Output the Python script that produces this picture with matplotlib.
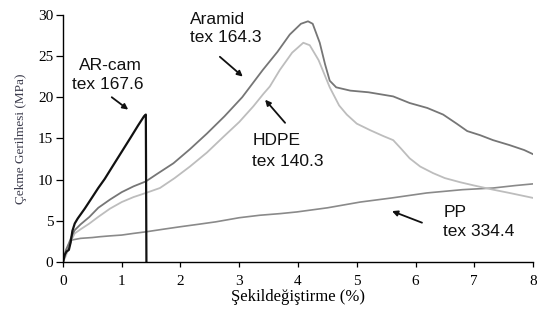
import matplotlib
matplotlib.use("Agg")
import matplotlib.pyplot as plt

# ---- data ----
arcam_x = [0, 0.03, 0.06, 0.10, 0.13, 0.16, 0.20, 0.25, 0.30, 0.37, 0.49, 0.60, 0.71, 0.85, 1.00, 1.15, 1.28, 1.38, 1.41, 1.42]
arcam_y = [0, 0.9, 1.3, 1.5, 2.4, 3.8, 4.7, 5.3, 5.8, 6.5, 7.8, 9.0, 10.1, 11.7, 13.4, 15.1, 16.6, 17.7, 17.9, 0.0]

aramid_x = [0, 0.05, 0.10, 0.15, 0.20, 0.30, 0.45, 0.60, 0.80, 1.00, 1.20, 1.41, 1.60, 1.88, 2.16, 2.45, 2.75,
            3.05, 3.40, 3.65, 3.86, 4.05, 4.17, 4.25, 4.37, 4.46, 4.54, 4.65, 4.89, 5.20, 5.62, 5.90, 6.20,
            6.47, 6.70, 6.88, 7.10, 7.32, 7.60, 7.85, 8.00]
aramid_y = [0, 1.5, 2.3, 3.2, 3.9, 4.6, 5.5, 6.6, 7.6, 8.5, 9.2, 9.8, 10.7, 12.0, 13.7, 15.6, 17.7,
            20.0, 23.3, 25.5, 27.6, 28.9, 29.2, 28.9, 26.6, 24.0, 22.0, 21.2, 20.8, 20.6, 20.1, 19.3, 18.7,
            17.9, 16.8, 15.9, 15.4, 14.8, 14.2, 13.6, 13.1]

hdpe_x = [0, 0.05, 0.10, 0.15, 0.20, 0.30, 0.45, 0.60, 0.80, 1.00, 1.20, 1.41, 1.65, 1.90, 2.16, 2.45, 2.73,
          3.00, 3.24, 3.41, 3.52, 3.69, 3.90, 4.09, 4.20, 4.35, 4.54, 4.70, 4.83, 5.00, 5.23, 5.45, 5.62,
          5.75, 5.90, 6.08, 6.30, 6.50, 6.76, 7.00, 7.32, 7.60, 8.00]
hdpe_y = [0, 0.8, 1.8, 2.8, 3.5, 4.0, 4.7, 5.5, 6.5, 7.3, 7.9, 8.4, 9.0, 10.2, 11.6, 13.3, 15.2,
          17.0, 18.9, 20.4, 21.3, 23.3, 25.4, 26.6, 26.3, 24.5, 21.2, 19.0, 17.9, 16.8, 16.0, 15.3, 14.8,
          13.8, 12.6, 11.6, 10.8, 10.2, 9.7, 9.3, 8.8, 8.4, 7.8]

pp_x = [0, 0.05, 0.10, 0.15, 0.30, 0.50, 0.63, 0.80, 1.00, 1.20, 1.42, 1.70, 1.99, 2.30, 2.60, 3.00, 3.35,
        3.70, 3.98, 4.50, 5.06, 5.60, 6.19, 6.80, 7.32, 7.70, 8.00]
pp_y = [0, 1.2, 2.2, 2.7, 2.9, 3.0, 3.1, 3.2, 3.3, 3.5, 3.7, 4.0, 4.3, 4.6, 4.9, 5.4, 5.7,
        5.9, 6.1, 6.6, 7.3, 7.8, 8.4, 8.8, 9.0, 9.3, 9.5]

x_ticks = [0, 1, 2, 3, 4, 5, 6, 7, 8]
y_ticks = [0, 5, 10, 15, 20, 25, 30]

labels = [("AR-cam", "tex 167.6"), ("Aramid", "tex 164.3"), ("HDPE", "tex 140.3"), ("PP", "tex 334.4")]

# ---- figure ----
fig = plt.figure(figsize=(5.37, 3.21), dpi=100)
ax = fig.add_axes([0.1173, 0.1829, 0.8753, 0.7713])

ax.plot(pp_x, pp_y, color="#8a8a8a", lw=1.2)
ax.plot(hdpe_x, hdpe_y, color="#bdbdbd", lw=1.3)
ax.plot(aramid_x, aramid_y, color="#767676", lw=1.3)
ax.plot(arcam_x, arcam_y, color="#111111", lw=1.6)

ax.set_xlim(0, 8)
ax.set_ylim(0, 30)
ax.set_xticks(x_ticks)
ax.set_yticks(y_ticks)

for s in ("top", "right"):
    ax.spines[s].set_visible(False)
for s in ("left", "bottom"):
    ax.spines[s].set_linewidth(1.0)
    ax.spines[s].set_color("black")
ax.tick_params(axis="x", direction="out", length=3.3, width=0.9, labelsize=11, pad=5.5)
ax.tick_params(axis="y", direction="out", length=5.0, width=0.9, labelsize=11, pad=2)
for lab in ax.get_xticklabels() + ax.get_yticklabels():
    lab.set_family("Liberation Serif")

ax.set_xlabel("Şekildeğiştirme (%)", family="Liberation Serif", fontsize=12, labelpad=1)
ax.set_ylabel("Çekme Gerilmesi (MPa)", family="Liberation Serif", fontsize=9.5,
              color="#3b3b4b", labelpad=8)

tkw = dict(family="Liberation Sans", fontsize=12.5, color="#111111", va="center")
ap = dict(arrowstyle="-|>", color="#111111", lw=1.3, mutation_scale=8, shrinkA=0, shrinkB=0)

# AR-cam
ax.text(0.80, 23.9, labels[0][0], ha="center", **tkw)
ax.text(0.77, 21.6, labels[0][1], ha="center", **tkw)
ax.annotate("", xy=(1.11, 18.5), xytext=(0.83, 20.0), arrowprops=ap)
# Aramid
ax.text(2.16, 29.4, labels[1][0], ha="left", **tkw)
ax.text(2.16, 27.2, labels[1][1], ha="left", **tkw)
ax.annotate("", xy=(3.06, 22.5), xytext=(2.67, 24.9), arrowprops=ap)
# HDPE
ax.text(3.22, 14.8, labels[2][0], ha="left", **tkw)
ax.text(3.22, 12.2, labels[2][1], ha="left", **tkw)
ax.annotate("", xy=(3.44, 19.7), xytext=(3.78, 16.9), arrowprops=ap)
# PP
ax.text(6.47, 6.0, labels[3][0], ha="left", **tkw)
ax.text(6.47, 3.7, labels[3][1], ha="left", **tkw)
ax.annotate("", xy=(5.60, 6.2), xytext=(6.11, 4.8), arrowprops=ap)

fig.savefig("out.png", dpi=100)
